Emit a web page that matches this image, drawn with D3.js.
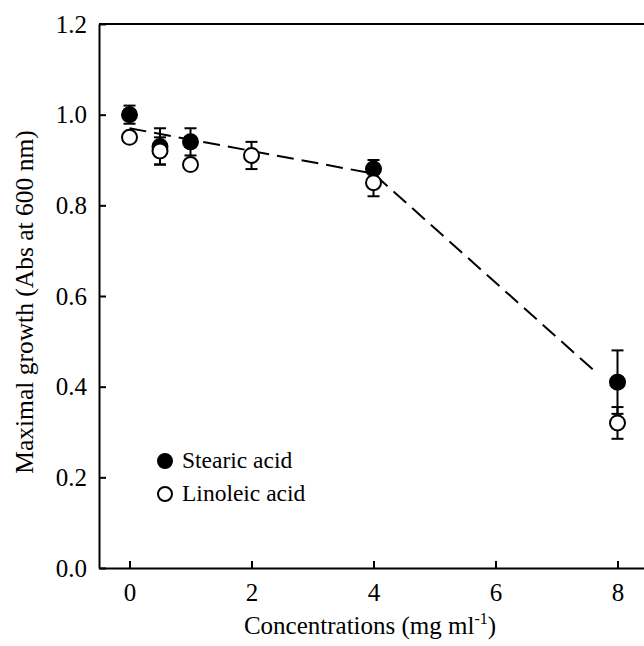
<!DOCTYPE html>
<html>
<head>
<meta charset="utf-8">
<script src="https://cdn.jsdelivr.net/npm/d3@7"></script>
<style>
  body { margin: 0; background: #fff; }
</style>
</head>
<body>
<div class="d3Chart"></div>
<script>
// data
var concentrations = [0, 0.5, 1, 2, 4, 8];
var stearic = [1.00, 0.93, 0.94, null, 0.88, 0.41];
var stearicErr = [0.02, 0.04, 0.03, null, 0.02, 0.07];
var linoleic = [0.95, 0.92, 0.89, 0.91, 0.85, 0.32];
var linoleicErr = [0.01, 0.03, 0, 0.03, 0.03, 0.035];
var trendX = [0, 4, 7.62];
var trendY = [0.97, 0.87, 0.435];
var xTicks = [0, 2, 4, 6, 8];
var yTicks = [0, 0.2, 0.4, 0.6, 0.8, 1.0, 1.2];

var serif = "'Liberation Serif', 'Times New Roman', Times, 'DejaVu Serif', serif";
var width = 644, height = 646;
var svg = d3.select(".d3Chart").append("svg")
  .attr("width", width).attr("height", height)
  .style("font-family", serif);

var x = d3.scaleLinear().domain([-0.5, 8.5]).range([99, 648]);
var y = d3.scaleLinear().domain([0, 1.2]).range([568, 24]);

// axes (ticks point inward)
var yAxis = svg.append("g").attr("transform", "translate(" + x(-0.5) + ",0)")
  .call(d3.axisLeft(y).tickValues(yTicks).tickFormat(d3.format(".1f")).tickSizeInner(-7).tickSizeOuter(0).tickPadding(12));
var xAxis = svg.append("g").attr("transform", "translate(0," + y(0) + ")")
  .call(d3.axisBottom(x).tickValues(xTicks).tickFormat(d3.format("d")).tickSizeInner(-7).tickSizeOuter(0).tickPadding(15));
[xAxis, yAxis].forEach(function (a) {
  a.attr("font-family", null).attr("font-size", null);
  a.selectAll("path, line").attr("stroke", "#000").attr("stroke-width", 2);
  a.selectAll("text").style("font-size", "25px").style("font-family", serif).attr("fill", "#000");
});
// top border
svg.append("line").attr("x1", x(-0.5)).attr("x2", width).attr("y1", y(1.2)).attr("y2", y(1.2))
  .attr("stroke", "#000").attr("stroke-width", 2);

// dashed trend
var line = d3.line().x(function (d) { return x(d[0]); }).y(function (d) { return y(d[1]); });
svg.append("path").datum(d3.zip(trendX, trendY)).attr("d", line)
  .attr("fill", "none").attr("stroke", "#000").attr("stroke-width", 2).attr("stroke-dasharray", "17,8");

function series(vals, errs, fill) {
  var pts = concentrations.map(function (c, i) { return { x: c, v: vals[i], e: errs[i] }; })
    .filter(function (d) { return d.v != null; });
  var g = svg.append("g");
  var eb = g.selectAll(".eb").data(pts.filter(function (d) { return d.e > 0; })).enter().append("g")
    .attr("stroke", "#000").attr("stroke-width", 2);
  eb.append("line").attr("x1", function (d) { return x(d.x); }).attr("x2", function (d) { return x(d.x); })
    .attr("y1", function (d) { return y(d.v + d.e); }).attr("y2", function (d) { return y(d.v - d.e); });
  eb.append("line").attr("x1", function (d) { return x(d.x) - 6; }).attr("x2", function (d) { return x(d.x) + 6; })
    .attr("y1", function (d) { return y(d.v + d.e); }).attr("y2", function (d) { return y(d.v + d.e); });
  eb.append("line").attr("x1", function (d) { return x(d.x) - 6; }).attr("x2", function (d) { return x(d.x) + 6; })
    .attr("y1", function (d) { return y(d.v - d.e); }).attr("y2", function (d) { return y(d.v - d.e); });
  g.selectAll("circle").data(pts).enter().append("circle")
    .attr("cx", function (d) { return x(d.x); }).attr("cy", function (d) { return y(d.v); })
    .attr("r", 7.5).attr("fill", fill).attr("stroke", "#000").attr("stroke-width", 2);
}
series(stearic, stearicErr, "#000");
series(linoleic, linoleicErr, "#fff");

// legend
var legend = svg.append("g");
[["Stearic acid", "#000"], ["Linoleic acid", "#fff"]].forEach(function (l, i) {
  var ly = 461 + i * 33;
  legend.append("circle").attr("cx", 165).attr("cy", ly).attr("r", 7).attr("fill", l[1])
    .attr("stroke", "#000").attr("stroke-width", 2);
  legend.append("text").attr("x", 182).attr("y", ly + 7).style("font-size", "23.5px").text(l[0]);
});

// axis titles
var xt = svg.append("text").attr("x", 370).attr("y", 634).attr("text-anchor", "middle").style("font-size", "25px");
xt.append("tspan").text("Concentrations (mg ml");
xt.append("tspan").attr("dy", -10).style("font-size", "16px").text("-1");
xt.append("tspan").attr("dy", 10).text(")");
svg.append("text").attr("transform", "translate(33,302) rotate(-90)").attr("text-anchor", "middle")
  .style("font-size", "25.5px").text("Maximal growth (Abs at 600 nm)");
</script>
</body>
</html>
